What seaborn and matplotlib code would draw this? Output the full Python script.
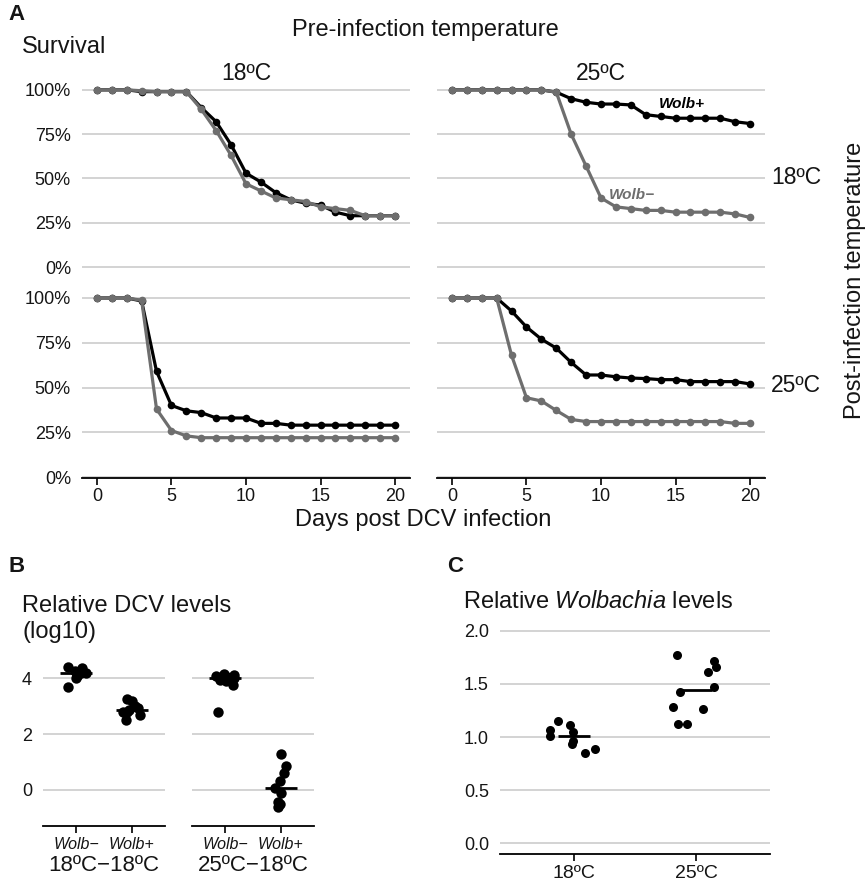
import numpy as np
import pandas as pd
import matplotlib
matplotlib.use("Agg")
import matplotlib.pyplot as plt
import seaborn as sns

sns.set_theme(style="white")
plt.rcParams['font.family'] = ['Liberation Sans', 'DejaVu Sans']
plt.rcParams['mathtext.fontset'] = 'custom'
plt.rcParams['mathtext.rm'] = 'Liberation Sans'
plt.rcParams['mathtext.it'] = 'Liberation Sans:italic'

# ---------------- data ----------------
days = list(range(21))
# survival (%) ; naming: pre-infection temp _ post-infection temp
surv_pre18_post18_plus = [100, 100, 100, 99, 99, 99, 99, 90, 82, 69, 53, 48, 42, 38, 36, 35, 31, 29, 29, 29, 29]
surv_pre18_post18_minus = [100, 100, 100, 99.5, 99, 99, 99, 89, 77, 63, 47, 43, 39, 38, 37, 34, 33, 32, 29, 29, 29]
surv_pre25_post18_plus = [100, 100, 100, 100, 100, 100, 100, 98.7, 95, 93, 92, 92, 91.5, 86, 85, 84, 84, 84, 84, 82, 81]
surv_pre25_post18_minus = [100, 100, 100, 100, 100, 100, 100, 98.7, 75, 57, 39, 34, 33, 32, 32, 31, 31, 31, 31, 30, 28]
surv_pre18_post25_plus = [100, 100, 100, 98.3, 59, 40, 37, 36, 33, 33, 33, 30, 30, 29, 29, 29, 29, 29, 29, 29, 29]
surv_pre18_post25_minus = [100, 100, 100, 98.7, 38, 26, 23, 22, 22, 22, 22, 22, 22, 22, 22, 22, 22, 22, 22, 22, 22]
surv_pre25_post25_plus = [100, 100, 100, 100, 92.7, 83.8, 77, 72, 64, 57, 57, 56, 55.3, 55, 54.4, 54.4, 53.3, 53.3, 53.3, 53.3, 52]
surv_pre25_post25_minus = [100, 100, 100, 100, 68, 44.3, 42.5, 37.2, 32.2, 31, 31, 31, 31, 31, 31, 31, 31, 31, 31, 30, 30]

temps = ["18ºC", "25ºC"]
wolb_levels = ["Wolb+", "Wolb−"]
pct_ticks = [0, 25, 50, 75, 100]
pct_labels = ["0%", "25%", "50%", "75%", "100%"]
day_ticks = [0, 5, 10, 15, 20]

# panel B: relative DCV levels (log10)
dcv_treatments = ["18ºC−18ºC", "25ºC−18ºC"]
dcv_18_18_minus = [4.42, 4.36, 4.28, 4.2, 4.18, 4.1, 4.0, 3.68]
dcv_18_18_plus = [3.25, 3.2, 3.0, 2.95, 2.85, 2.8, 2.78, 2.7, 2.5]
dcv_25_18_minus = [4.15, 4.12, 4.1, 4.05, 4.0, 3.95, 3.9, 3.75, 2.8]
dcv_25_18_plus = [1.3, 0.86, 0.61, 0.31, 0.05, -0.1, -0.45, -0.5, -0.6]
dcv_ticks = [0, 2, 4]

# panel C: relative Wolbachia levels
wol_18 = [1.147, 1.066, 0.935, 0.85, 1.11, 1.05, 1.01, 0.96, 0.887]
wol_25 = [1.71, 1.61, 1.77, 1.66, 1.47, 1.42, 1.26, 1.28, 1.12, 1.12]
wol_ticks = [0.0, 0.5, 1.0, 1.5, 2.0]
wol_labels = ["0.0", "0.5", "1.0", "1.5", "2.0"]

# ---------------- tables ----------------
rows = []
series = {
    ("18ºC", "18ºC", "Wolb+"): surv_pre18_post18_plus,
    ("18ºC", "18ºC", "Wolb−"): surv_pre18_post18_minus,
    ("25ºC", "18ºC", "Wolb+"): surv_pre25_post18_plus,
    ("25ºC", "18ºC", "Wolb−"): surv_pre25_post18_minus,
    ("18ºC", "25ºC", "Wolb+"): surv_pre18_post25_plus,
    ("18ºC", "25ºC", "Wolb−"): surv_pre18_post25_minus,
    ("25ºC", "25ºC", "Wolb+"): surv_pre25_post25_plus,
    ("25ºC", "25ºC", "Wolb−"): surv_pre25_post25_minus,
}
for (pre, post, wb), vals in series.items():
    for d, v in zip(days, vals):
        rows.append(dict(pre=pre, post=post, wolb=wb, day=d, survival=v))
surv = pd.DataFrame(rows)

dcv_rows = []
for tr, wb, vals in [("18ºC−18ºC", "Wolb−", dcv_18_18_minus), ("18ºC−18ºC", "Wolb+", dcv_18_18_plus),
                     ("25ºC−18ºC", "Wolb−", dcv_25_18_minus), ("25ºC−18ºC", "Wolb+", dcv_25_18_plus)]:
    for v in vals:
        dcv_rows.append(dict(treatment=tr, wolb=wb, dcv=v))
dcv = pd.DataFrame(dcv_rows)

wol = pd.DataFrame(dict(temp=["18ºC"] * len(wol_18) + ["25ºC"] * len(wol_25), level=wol_18 + wol_25))

# ---------------- figure ----------------
W, H = 867, 883
fig = plt.figure(figsize=(W / 100, H / 100), dpi=100)

def add_ax(l, t, r, b):
    return fig.add_axes([l / W, 1 - b / H, (r - l) / W, (b - t) / H])

GRID = "#c8c8c8"
GRAY = "#6e6e6e"
TXT = "#151515"
palette = {"Wolb+": "black", "Wolb−": GRAY}
BIG = 17
TICK = 13

rects = {
    ("18ºC", "18ºC"): (82, 81, 410, 268),
    ("25ºC", "18ºC"): (437, 81, 765, 268),
    ("18ºC", "25ºC"): (82, 289, 410, 478),
    ("25ºC", "25ºC"): (437, 289, 765, 478),
}
for (pre, post), rect in rects.items():
    ax = add_ax(*rect)
    sub = surv[(surv.pre == pre) & (surv.post == post)]
    sns.lineplot(data=sub, x="day", y="survival", hue="wolb", hue_order=wolb_levels,
                 palette=palette, marker="o", markersize=5.5, markeredgewidth=0,
                 linewidth=2.3, legend=False, ax=ax)
    ax.set_xlim(-1, 21)
    ax.set_ylim(-0.5, 105)
    ax.set_axisbelow(True)
    ax.set_yticks(pct_ticks)
    for y in pct_ticks:
        ax.axhline(y, color=GRID, lw=1.1, zorder=0)
    ax.grid(False)
    for s in ["top", "right", "left"]:
        ax.spines[s].set_visible(False)
    ax.set_xlabel("")
    ax.set_ylabel("")
    if pre == "18ºC":
        ax.set_yticklabels(pct_labels, fontsize=TICK, color=TXT)
    else:
        ax.set_yticklabels([])
    ax.tick_params(axis="y", length=0, pad=8)
    if post == "25ºC":
        ax.spines["bottom"].set_visible(True)
        ax.spines["bottom"].set_color("black")
        ax.spines["bottom"].set_linewidth(1.3)
        ax.set_xticks(day_ticks)
        ax.set_xticklabels([str(d) for d in day_ticks], fontsize=TICK, color=TXT)
        ax.tick_params(axis="x", length=5, width=1.2, color="black", pad=2, direction="out", bottom=True)
    else:
        ax.spines["bottom"].set_visible(False)
        ax.set_xticks([])
    ax.set_facecolor("none")

def ftext(x, y, s, **kw):
    kw.setdefault("color", TXT)
    fig.text(x / W, 1 - y / H, s, **kw)

ftext(8, 14, "A", fontsize=16, fontweight="bold", va="center", ha="left")
ftext(425, 30, "Pre-infection temperature", fontsize=BIG, va="center", ha="center")
ftext(22, 47, "Survival", fontsize=BIG, va="center", ha="left")
ftext(246, 74, "18ºC", fontsize=16.5, va="center", ha="center")
ftext(601, 74, "25ºC", fontsize=16.5, va="center", ha="center")
ftext(796, 177, "18ºC", fontsize=16.5, va="center", ha="center")
ftext(796, 385, "25ºC", fontsize=16.5, va="center", ha="center")
ftext(855, 280, "Post-infection temperature", fontsize=BIG, va="center", ha="center", rotation=90)
ftext(423, 520, "Days post DCV infection", fontsize=BIG, va="center", ha="center")
ftext(682, 104, "Wolb+", fontsize=11, fontweight="bold", fontstyle="italic", va="center", ha="center", color="black")
ftext(632, 195, "Wolb−", fontsize=11, fontweight="bold", fontstyle="italic", va="center", ha="center", color=GRAY)

# ---------------- panel B ----------------
np.random.seed(7)
brects = {"18ºC−18ºC": (43, 659, 165, 826), "25ºC−18ºC": (192, 659, 314, 826)}
for i, (tr, rect) in enumerate(brects.items()):
    ax = add_ax(*rect)
    sub = dcv[dcv.treatment == tr]
    order = ["Wolb−", "Wolb+"]
    sns.stripplot(data=sub, x="wolb", y="dcv", order=order, color="black", size=7.5,
                  jitter=0.18, linewidth=0, ax=ax, zorder=3)
    for j, wb in enumerate(order):
        med = np.median(sub[sub.wolb == wb].dcv)
        ax.hlines(med, j - 0.29, j + 0.29, color="black", lw=2, zorder=4)
    ax.set_xlim(-0.6, 1.6)
    ax.set_ylim(-1.3, 4.7)
    ax.set_yticks(dcv_ticks)
    for y in dcv_ticks:
        ax.axhline(y, color=GRID, lw=1.1, zorder=0)
    ax.grid(False)
    for s in ["top", "right", "left"]:
        ax.spines[s].set_visible(False)
    ax.spines["bottom"].set_color("black")
    ax.spines["bottom"].set_linewidth(1.3)
    if i == 0:
        ax.set_yticklabels([str(t) for t in dcv_ticks], fontsize=TICK, color=TXT)
    else:
        ax.set_yticklabels([])
    ax.tick_params(axis="y", length=0, pad=8)
    ax.set_xticks([0, 1])
    ax.set_xticklabels(order, fontsize=11.5, fontstyle="italic", color=TXT)
    ax.tick_params(axis="x", length=5, width=1.2, color="black", pad=3, direction="out", bottom=True)
    ax.set_ylabel("")
    ax.set_xlabel(tr, fontsize=16, labelpad=2, color=TXT)
    ax.set_facecolor("none")

ftext(8, 567, "B", fontsize=16, fontweight="bold", va="center", ha="left")
ftext(22, 606, "Relative DCV levels", fontsize=BIG, va="center", ha="left")
ftext(22, 632, "(log10)", fontsize=BIG, va="center", ha="left")

# ---------------- panel C ----------------
np.random.seed(11)
ax = add_ax(500, 620, 770, 854)
sns.stripplot(data=wol, x="temp", y="level", order=temps, color="black", size=6.5,
              jitter=0.2, linewidth=0, ax=ax, zorder=3)
for j, t in enumerate(temps):
    med = np.median(wol[wol.temp == t].level)
    ax.hlines(med, j - 0.13, j + 0.13, color="black", lw=2, zorder=4)
ax.set_xlim(-0.6, 1.6)
ax.set_ylim(-0.1, 2.1)
ax.set_yticks(wol_ticks)
for y in wol_ticks:
    ax.axhline(y, color=GRID, lw=1.1, zorder=0)
ax.grid(False)
for s in ["top", "right", "left"]:
    ax.spines[s].set_visible(False)
ax.spines["bottom"].set_color("black")
ax.spines["bottom"].set_linewidth(1.3)
ax.set_yticklabels(wol_labels, fontsize=TICK, color=TXT)
ax.tick_params(axis="y", length=0, pad=8)
ax.set_xticks([0, 1])
ax.set_xticklabels(temps, fontsize=14, color=TXT)
ax.tick_params(axis="x", length=5, width=1.2, color="black", pad=3, direction="out", bottom=True)
ax.set_xlabel("")
ax.set_ylabel("")
ax.set_facecolor("none")

ftext(447, 567, "C", fontsize=16, fontweight="bold", va="center", ha="left")
ftext(463, 602, r"Relative $\it{Wolbachia}$ levels", fontsize=BIG, va="center", ha="left")

fig.savefig("out.png", dpi=100)
